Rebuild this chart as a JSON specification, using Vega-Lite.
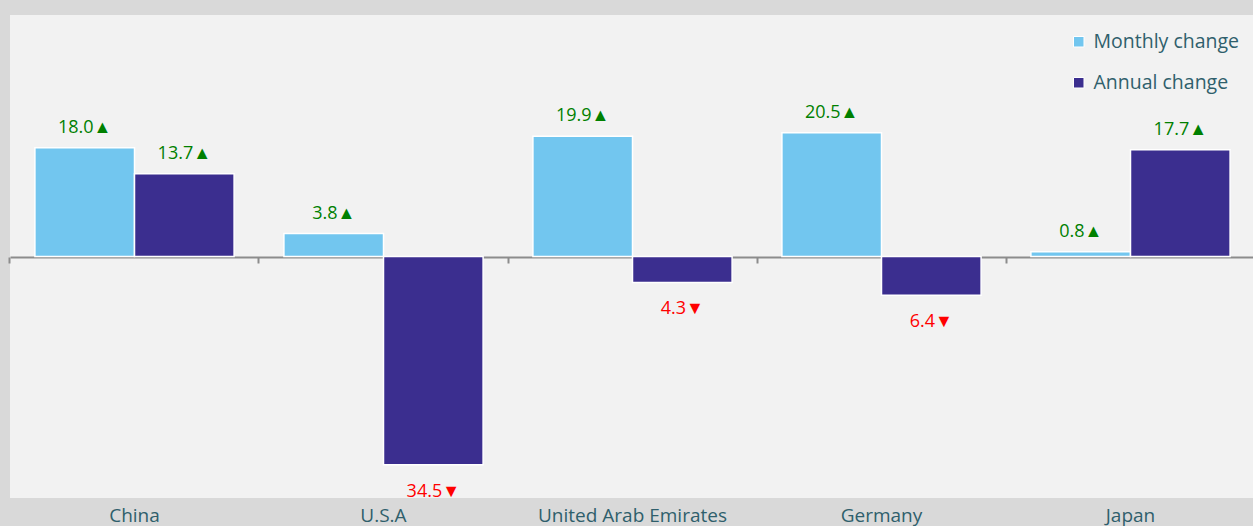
{
  "$schema": "https://vega.github.io/schema/vega-lite/v6.json",
  "width": 1245,
  "height": 483,
  "autosize": {"type": "none"},
  "padding": {"left": 10, "top": 15, "right": 0, "bottom": 28},
  "background": "#d9d9d9",
  "config": {
    "view": {"fill": "#f2f2f2", "stroke": null},
    "font": "Open Sans"
  },
  "data": {
    "values": [
      {"country": "China", "series": "Monthly change", "value": 18.0, "label": "18.0▲"},
      {"country": "China", "series": "Annual change", "value": 13.7, "label": "13.7▲"},
      {"country": "U.S.A", "series": "Monthly change", "value": 3.8, "label": "3.8▲"},
      {"country": "U.S.A", "series": "Annual change", "value": -34.5, "label": "34.5▼"},
      {"country": "United Arab Emirates", "series": "Monthly change", "value": 19.9, "label": "19.9▲"},
      {"country": "United Arab Emirates", "series": "Annual change", "value": -4.3, "label": "4.3▼"},
      {"country": "Germany", "series": "Monthly change", "value": 20.5, "label": "20.5▲"},
      {"country": "Germany", "series": "Annual change", "value": -6.4, "label": "6.4▼"},
      {"country": "Japan", "series": "Monthly change", "value": 0.8, "label": "0.8▲"},
      {"country": "Japan", "series": "Annual change", "value": 17.7, "label": "17.7▲"}
    ]
  },
  "encoding": {
    "xOffset": {"field": "series", "type": "nominal", "sort": ["Monthly change", "Annual change"], "scale": {"paddingInner": 0}},
    "y": {
      "field": "value", "type": "quantitative",
      "scale": {"domain": [-40, 40], "nice": false, "zero": true},
      "axis": null
    }
  },
  "layer": [
    {
      "mark": {"type": "bar", "stroke": "white", "strokeWidth": 1.5},
      "encoding": {
        "x": {
          "field": "country", "type": "nominal", "sort": null, "title": null,
          "scale": {"paddingInner": 0.2, "paddingOuter": 0.1},
          "axis": {
            "orient": "bottom", "domain": false, "ticks": false,
            "labelFontSize": 19, "labelColor": "#2f5f6c", "labelPadding": 8,
            "labelAngle": 0, "labelFont": "Open Sans", "labelLimit": 0
          }
        },
        "color": {
          "field": "series", "type": "nominal",
          "scale": {"domain": ["Monthly change", "Annual change"], "range": ["#72c6ef", "#3b2e8f"]},
          "legend": {
            "title": null, "orient": "none", "legendX": 1059, "legendY": 17,
            "symbolType": "square", "symbolSize": 110, "symbolStrokeColor": "white", "symbolStrokeWidth": 1,
            "labelFontSize": 19.5, "labelColor": "#2f5f6c", "labelFont": "Open Sans",
            "rowPadding": 20, "symbolOffset": 0, "labelOffset": 5, "labelLimit": 0
          }
        }
      }
    },
    {
      "transform": [{"filter": "datum.value >= 0"}],
      "mark": {"type": "text", "baseline": "alphabetic", "dy": -15, "fontSize": 18, "color": "#008000"},
      "encoding": {
        "x": {"field": "country", "type": "nominal", "sort": null, "axis": null},
        "text": {"field": "label"}
      }
    },
    {
      "transform": [{"filter": "datum.value < 0"}],
      "mark": {"type": "text", "baseline": "alphabetic", "dy": 32, "fontSize": 18, "color": "#ff0000"},
      "encoding": {
        "x": {"field": "country", "type": "nominal", "sort": null, "axis": null},
        "text": {"field": "label"}
      }
    },
    {
      "mark": {"type": "tick", "opacity": 0},
      "encoding": {
        "x": {
          "field": "country", "type": "nominal", "sort": null, "title": null,
          "axis": {
            "orient": "bottom", "offset": -241, "labels": false, "bandPosition": -0.125,
            "domain": true, "domainColor": "#8c8c8c", "domainWidth": 2,
            "ticks": true, "tickColor": "#8c8c8c", "tickWidth": 2, "tickSize": 6
          }
        }
      }
    }
  ],
  "resolve": {"axis": {"x": "independent"}}
}
